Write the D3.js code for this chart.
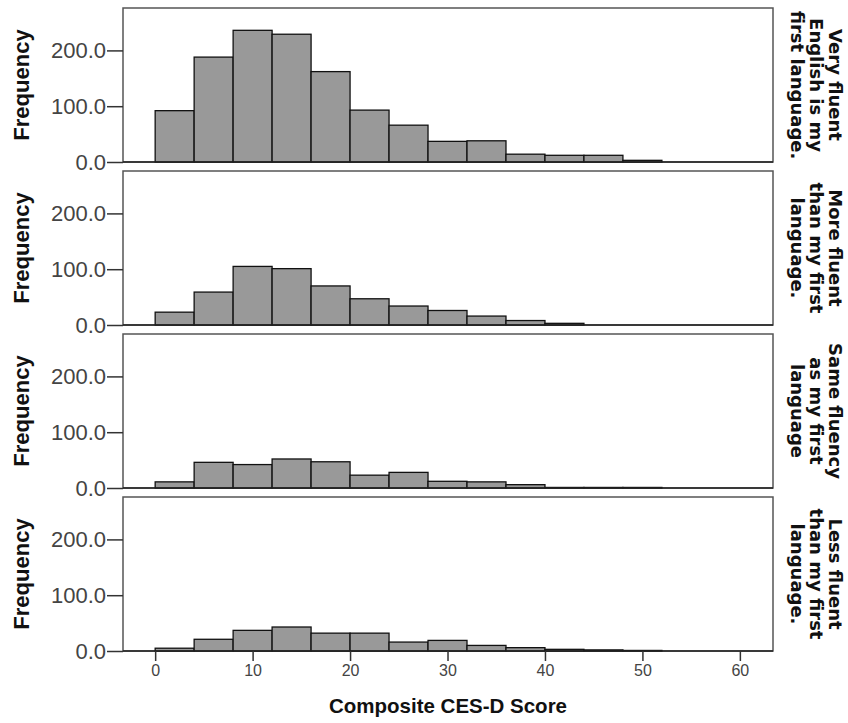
<!DOCTYPE html>
<html>
<head>
<meta charset="utf-8">
<script src="https://cdn.jsdelivr.net/npm/d3@7"></script>
<style>
  body { margin: 0; background: #fff; }
  svg { display: block; }
</style>
</head>
<body>
<svg id="chart" width="848" height="723"></svg>
<script>
// bin lower edges (bin width 4)
var binStarts = [0, 4, 8, 12, 16, 20, 24, 28, 32, 36, 40, 44, 48];
var binWidth = 4;

// frequencies per panel
var veryFluent  = [92, 188, 236, 229, 162, 93, 66, 37, 38, 14, 12, 12, 3];
var moreFluent  = [23, 59, 105, 101, 70, 47, 34, 26, 16, 8, 3, 0, 0];
var sameFluency = [11, 46, 42, 52, 47, 23, 28, 12, 11, 6, 1, 1, 1];
var lessFluent  = [5, 21, 37, 43, 32, 32, 16, 19, 10, 6, 3, 2, 1];

var panelLabels = [
    ["Very fluent", "English is my", "first language."],
    ["More fluent", "than my first", "language."],
    ["Same fluency", "as my first", "language"],
    ["Less fluent", "than my first", "language."]
];
var panelSeries = [veryFluent, moreFluent, sameFluency, lessFluent];

var yTicks = [0, 100, 200];
var xTicks = [0, 10, 20, 30, 40, 50, 60];
var yTitle = "Frequency";
var xTitle = "Composite CES-D Score";

var svg = d3.select("#chart");

var left = 123, right = 773;
var panelTop = 8, panelH = 154, panelStep = 163;

var x = d3.scaleLinear().domain([-3.3, 63.4]).range([left, right]);

panelSeries.forEach(function(counts, i){
    var top = panelTop + i*panelStep;
    var y = d3.scaleLinear().domain([0, 276]).range([top + panelH, top]);
    var g = svg.append("g");

    // frame
    g.append("rect")
        .attr("x", left).attr("y", top)
        .attr("width", right-left).attr("height", panelH)
        .attr("fill", "none").attr("stroke", "#555").attr("stroke-width", 1.5);

    // bars
    g.selectAll("rect.bar")
        .data(binStarts.map(function(b, j){ return {x0: b, n: counts[j]}; })
            .filter(function(d){ return d.n > 0; }))
        .enter().append("rect")
        .attr("class", "bar")
        .attr("x", function(d){ return x(d.x0); })
        .attr("y", function(d){ return y(d.n); })
        .attr("width", function(d){ return x(d.x0+binWidth) - x(d.x0); })
        .attr("height", function(d){ return y(0) - y(d.n); })
        .attr("fill", "#999999")
        .attr("stroke", "#111")
        .attr("stroke-width", 1.3);

    // y axis
    var yAxis = g.append("g")
        .attr("transform", "translate(" + left + ",0)")
        .call(d3.axisLeft(y).tickValues(yTicks).tickFormat(d3.format(".1f"))
            .tickSize(16).tickPadding(1));
    yAxis.select(".domain").remove();
    yAxis.selectAll("line").attr("stroke", "#333").attr("stroke-width", 1.5);
    yAxis.selectAll("text")
        .attr("fill", "#444")
        .style("font-family", "'Liberation Sans', Arial, sans-serif")
        .style("font-size", "22px");

    // zero line across the bottom
    g.append("line")
        .attr("x1", left).attr("x2", right)
        .attr("y1", y(0)).attr("y2", y(0))
        .attr("stroke", "#222").attr("stroke-width", 1.5);

    // y title
    g.append("text")
        .attr("transform", "translate(29," + (top + panelH/2) + ") rotate(-90)")
        .attr("text-anchor", "middle")
        .style("font-family", "'Liberation Sans', Arial, sans-serif")
        .style("font-weight", "bold")
        .style("font-size", "22px")
        .attr("fill", "#111")
        .text(yTitle);

    // panel label on the right, reading top to bottom
    var lab = g.append("text")
        .attr("transform", "translate(" + 810 + "," + (top + panelH/2) + ") rotate(90)")
        .attr("text-anchor", "middle")
        .style("font-family", "'DejaVu Sans', sans-serif")
        .style("font-weight", "bold")
        .style("font-size", "18px")
        .attr("fill", "#111");
    panelLabels[i].forEach(function(t, k){
        lab.append("tspan")
            .attr("x", 0)
            .attr("y", (k - 1)*19)
            .text(t);
    });

    // x axis only on the last panel
    if(i == panelSeries.length-1){
        var xAxis = g.append("g")
            .attr("transform", "translate(0," + y(0) + ")")
            .call(d3.axisBottom(x).tickValues(xTicks).tickSize(10).tickPadding(4));
        xAxis.select(".domain").remove();
        xAxis.selectAll("line").attr("stroke", "#333").attr("stroke-width", 1.5);
        xAxis.selectAll("text")
            .attr("fill", "#444")
            .style("font-family", "'Liberation Sans', Arial, sans-serif")
            .style("font-size", "16px");
    }
});

svg.append("text")
    .attr("x", (left+right)/2)
    .attr("y", 713)
    .attr("text-anchor", "middle")
    .style("font-family", "'Liberation Sans', Arial, sans-serif")
    .style("font-weight", "bold")
    .style("font-size", "20.5px")
    .attr("fill", "#111")
    .text(xTitle);
</script>
</body>
</html>
